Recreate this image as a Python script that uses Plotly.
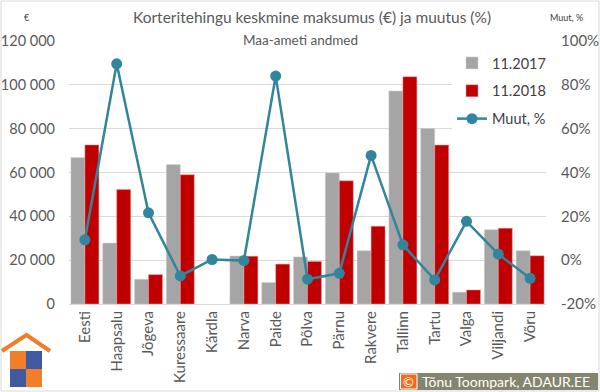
import plotly.graph_objects as go

categories = ["Eesti", "Haapsalu", "Jõgeva", "Kuressaare", "Kärdla", "Narva", "Paide",
              "Põlva", "Pärnu", "Rakvere", "Tallinn", "Tartu", "Valga", "Viljandi", "Võru"]
price_2017 = [66800, 27800, 11300, 63600, None, 21900, 9800, 21500, 59800, 24300,
              97200, 80100, 5400, 33900, 24300]
price_2018 = [72600, 52300, 13400, 59000, None, 21800, 18200, 19400, 56200, 35500,
              103700, 72500, 6400, 34600, 22000]
change_pct = [9.3, 89.6, 21.6, -7.2, 0.3, -0.2, 84.0, -8.7, -6.0, 47.8, 7.0, -9.0, 17.7, 2.8, -8.3]

left_ticks = [0, 20000, 40000, 60000, 80000, 100000, 120000]
right_ticks = [-20, 0, 20, 40, 60, 80, 100]
right_tick_labels = ["-20%", "0%", "20%", "40%", "60%", "80%", "100%"]

GRAY = "#A5A5A5"
RED = "#C00000"
TEAL = "#31859C"
TXT = "#595959"
FONT = "Lato, 'Open Sans', sans-serif"

fig = go.Figure()
fig.add_trace(go.Bar(x=categories, y=price_2017, name="11.2017", legendgroup="a",
                     marker=dict(color=GRAY, line=dict(color="#D0D0D0", width=0.5))))
fig.add_trace(go.Bar(x=categories, y=price_2018, name="11.2018", legendgroup="b",
                     marker=dict(color=RED, line=dict(color="#E0A0A0", width=0.5))))
fig.add_trace(go.Scatter(x=categories, y=change_pct, name="Muut, %", yaxis="y2", mode="lines+markers",
                         legendgroup="c", line=dict(color=TEAL, width=2.5), marker=dict(color=TEAL, size=11)))

# plot area in pixels
L, R, T, B = 69, 546, 41, 304
W, H = 600, 392

def px(x):
    return (x - L) / (R - L)

def py(y):
    return (B - y) / (B - T)

shapes = []
# outer chart border
shapes.append(dict(type="rect", xref="paper", yref="paper", x0=px(1), x1=px(599), y0=py(1), y1=py(391),
                   line=dict(color="#D9D9D9", width=1), layer="below"))
# logo: roof
shapes.append(dict(type="path", xref="paper", yref="paper",
                   path=f"M {px(2)} {py(351)} L {px(26.5)} {py(335)} L {px(50)} {py(351)}",
                   line=dict(color="#F07F2A", width=4)))
# logo: puzzle squares
for (x0, y0, c) in [(10, 351, "#F07F2A"), (26, 351, "#3F5AA0"), (10, 369, "#3F5AA0"), (26, 369, "#F07F2A")]:
    shapes.append(dict(type="rect", xref="paper", yref="paper", x0=px(x0), x1=px(x0 + 16),
                       y0=py(y0 + 18), y1=py(y0), fillcolor=c, line=dict(width=0)))
# copyright box
shapes.append(dict(type="rect", xref="paper", yref="paper", x0=px(399), x1=px(598), y0=py(390), y1=py(373),
                   fillcolor="#85846E", line=dict(width=0)))
shapes.append(dict(type="rect", xref="paper", yref="paper", x0=px(400.5), x1=px(417), y0=py(389), y1=py(374),
                   fillcolor="#F26B1D", line=dict(color="white", width=1)))

annotations = [
    dict(text="Korteritehingu keskmine maksumus (€) ja muutus (%)", xref="paper", yref="paper",
         x=px(312), y=py(17), xanchor="center", yanchor="middle", showarrow=False,
         font=dict(size=15.5, color=TXT, family=FONT)),
    dict(text="Maa-ameti andmed", xref="paper", yref="paper",
         x=px(300), y=py(40), xanchor="center", yanchor="middle", showarrow=False,
         font=dict(size=13.5, color=TXT, family=FONT)),
    dict(text="€", xref="paper", yref="paper", x=px(27), y=py(17), xanchor="center", yanchor="middle",
         showarrow=False, font=dict(size=9, color="#404040", family=FONT)),
    dict(text="Muut, %", xref="paper", yref="paper", x=px(566), y=py(17), xanchor="center", yanchor="middle",
         showarrow=False, font=dict(size=9, color="#404040", family=FONT)),
    dict(text="©", xref="paper", yref="paper", x=px(408.7), y=py(381.5), xanchor="center", yanchor="middle",
         showarrow=False, font=dict(size=13, color="white", family=FONT)),
    dict(text="Tõnu Toompark, ADAUR.EE", xref="paper", yref="paper", x=px(420), y=py(381.5), xanchor="left",
         yanchor="middle", showarrow=False, font=dict(size=14, color="white", family=FONT)),
]

fig.update_layout(
    width=W, height=H,
    margin=dict(l=L, r=W - R, t=T, b=H - B, pad=0),
    paper_bgcolor="white", plot_bgcolor="white",
    separators=", ",
    barmode="group", bargap=0.12, bargroupgap=0,
    font=dict(family=FONT, color=TXT, size=14),
    showlegend=True,
    legend=dict(x=px(452), y=py(47), xanchor="left", yanchor="top", bgcolor="white",
                font=dict(size=14.5, color="#404040", family=FONT), tracegroupgap=6, itemwidth=30),
    xaxis=dict(tickangle=-90, showgrid=False, showline=True, linecolor="#D9D9D9", ticks="",
               tickfont=dict(size=15, color=TXT), range=[-0.5, 14.5], automargin=False),
    yaxis=dict(range=[0, 120000], tickvals=left_ticks, tickformat=",d", showgrid=True,
               gridcolor="#D9D9D9", gridwidth=1, zeroline=False, ticks="",
               tickfont=dict(size=14.5, color=TXT), ticklabelstandoff=13, automargin=False),
    yaxis2=dict(range=[-20, 100], overlaying="y", side="right", tickvals=right_ticks,
                ticktext=right_tick_labels, showgrid=False, zeroline=False, ticks="",
                tickfont=dict(size=15, color=TXT), ticklabelstandoff=14, automargin=False),
    shapes=shapes,
    annotations=annotations,
)

fig.write_html("out.html", config={"displayModeBar": False},
               post_script="document.body.style.margin='0';document.body.style.padding='0';")
